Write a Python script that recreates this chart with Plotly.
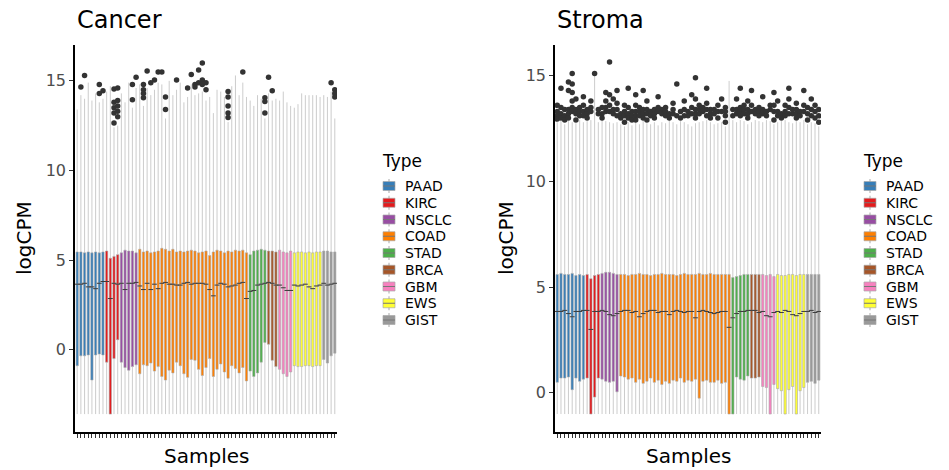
import plotly.graph_objects as go

# ---------------- data ----------------
types = ["PAAD", "KIRC", "NSCLC", "COAD", "STAD", "BRCA", "GBM", "EWS", "GIST"]
type_counts = [8, 4, 5, 30, 5, 3, 4, 8, 4]
type_colors = ["#377EB8", "#E41A1C", "#984EA3", "#FF7F00", "#4DAF4A",
               "#A65628", "#F781BF", "#FFFF33", "#999999"]
y_ticks = [0, 5, 10, 15]

# Cancer panel (per sample, 71 samples)
cancer_q3 = [5.45, 5.45, 5.4, 5.45, 5.4, 5.45, 5.4, 5.45,
             5.5, 5.1, 5.2, 5.3,
             5.4, 5.55, 5.5, 5.5, 5.4,
             5.6, 5.45, 5.5, 5.4, 5.45, 5.5, 5.65, 5.6, 5.5, 5.6, 5.45, 5.5, 5.45, 5.5, 5.55,
             5.5, 5.4, 5.45, 5.5, 5.25, 5.45, 5.55, 5.5, 5.4, 5.5, 5.45, 5.55, 5.5, 5.55, 5.4,
             5.3, 5.5, 5.55, 5.6, 5.55,
             5.5, 5.5, 5.45,
             5.55, 5.45, 5.4, 5.5,
             5.4, 5.45, 5.45, 5.4, 5.45, 5.4, 5.45, 5.45,
             5.5, 5.5, 5.45, 5.45]
cancer_med = [3.65, 3.65, 3.7, 3.5, 3.5, 3.4, 3.7, 3.8,
              3.8, 2.85, 3.7, 3.65,
              3.7, 3.35, 3.7, 3.7, 3.75,
              3.55, 3.35, 3.7, 3.35, 3.65, 3.4, 3.7, 3.75, 3.65, 3.65, 3.6, 3.6, 3.7, 3.75, 3.65,
              3.7, 3.7, 3.7, 3.65, 3.35, 3.0, 3.6, 3.7, 3.65, 3.5, 3.55, 3.6, 3.7, 3.75, 2.85,
              3.25, 3.3, 3.6, 3.65, 3.7,
              3.75, 3.7, 3.6,
              3.6, 3.45, 3.3, 3.3,
              3.6, 3.55, 3.6, 3.65, 3.5, 3.4, 3.55, 3.6,
              3.7, 3.6, 3.65, 3.7]
cancer_q1 = [-0.9, -0.35, -0.35, -0.3, -1.7, -0.3, -0.25, -0.3,
             -0.7, -3.6, -0.5, 0.55,
             -0.7, -1.0, -1.15, -0.95, -0.85,
             -1.35, -0.85, -0.9, -0.75, -1.2, -0.95, -1.5, -1.7, -1.15, -1.3, -0.7, -0.9, -1.35, -1.55, -0.55,
             -0.6, -1.1, -1.45, -1.0, -0.5, -1.5, -1.1, -0.8, -1.25, -1.6, -0.9, -1.05, -1.3, -1.0, -1.75,
             -1.2, -1.5, -1.3, -0.7, 0.4,
             0.3, -0.6, -0.95,
             -1.1, -1.35, -1.5, -1.25,
             -0.9, -0.95, -0.95, -0.9, -0.9, -0.95, -0.9, -0.9,
             -0.55, -0.75, -0.35, -0.2]
cancer_lf = [-3.6] * 71
cancer_uf = [13.4, 14.2, 14.0, 14.9, 13.9, 14.3, 13.8, 14.0,
             14.4, 14.7, 12.4, 12.5,
             14.3, 13.8, 14.9, 13.5, 14.6,
             14.8, 13.6, 14.6, 14.2, 14.5, 14.9, 14.8, 12.9, 15.0, 14.2, 14.5, 14.9, 13.8, 14.1,
             14.8, 14.2, 14.3, 14.4, 13.9, 14.1, 13.2, 14.5, 14.4, 14.1, 12.7, 14.7, 15.3, 14.2, 14.9, 14.1,
             13.9, 13.6, 14.2, 14.0, 12.9,
             14.3, 13.9, 14.0,
             13.9, 14.4, 13.8, 13.6,
             13.5, 13.7, 14.3, 14.2, 14.2, 14.2, 14.2, 14.1,
             14.2, 14.1, 14.4, 12.9]
cancer_out_idx = [1, 2, 6, 6, 7,
                  10, 10, 10, 10, 10, 11, 11, 11, 11, 11,
                  15, 15, 16, 18, 18, 18, 18, 19, 20, 21, 22, 23, 24, 24, 27,
                  30, 31, 32, 32, 33, 33, 34, 34, 34, 35, 35,
                  41, 41, 41, 41, 41, 45, 51, 51, 51, 52, 53, 69, 70, 70, 70]
cancer_out_val = [14.65, 15.3, 14.8, 14.3, 14.45,
                  14.55, 13.8, 13.5, 13.2, 12.65, 14.6, 13.9, 13.6, 13.3, 13.0,
                  14.8, 13.95, 15.2, 14.8, 14.5, 14.3, 14.05, 15.55, 14.9, 15.05, 15.5, 15.5, 14.1, 13.4, 15.05,
                  14.6, 15.35, 14.8, 14.65, 15.6, 14.9, 16.0, 15.05, 14.8, 14.5, 14.9,
                  14.4, 14.1, 13.6, 13.2, 12.95, 15.5, 14.05, 13.85, 13.2, 15.2, 14.45, 14.9, 14.5, 14.3, 14.1]

# Stroma panel (per sample, 71 samples)
stroma_q3 = [5.6, 5.65, 5.6, 5.6, 5.65, 5.55, 5.6, 5.55,
             5.6, 5.4, 5.55, 5.6,
             5.65, 5.7, 5.7, 5.65, 5.6,
             5.6, 5.6, 5.55, 5.6, 5.6, 5.65, 5.6, 5.6, 5.55, 5.6, 5.6, 5.65, 5.6, 5.6, 5.6,
             5.55, 5.6, 5.65, 5.6, 5.6, 5.6, 5.65, 5.6, 5.6, 5.65, 5.6, 5.6, 5.6, 5.6, 5.6,
             5.45, 5.5, 5.55, 5.6, 5.6,
             5.6, 5.6, 5.6,
             5.6, 5.55, 5.6, 5.5,
             5.6, 5.55, 5.55, 5.6, 5.6, 5.55, 5.6, 5.6,
             5.6, 5.6, 5.6, 5.6]
stroma_med = [3.85, 3.85, 3.9, 3.75, 3.6, 3.85, 3.85, 3.9,
              3.9, 3.0, 3.85, 3.85,
              3.9, 3.85, 3.7, 3.65, 3.75,
              3.85, 3.9, 3.9, 3.8, 3.85, 3.6, 3.75, 3.85, 3.9, 3.9, 3.8, 3.85, 3.85, 3.7, 3.85,
              3.9, 3.85, 3.8, 3.85, 3.85, 3.55, 3.85, 3.9, 3.85, 3.8, 3.75, 3.8, 3.85, 3.85, 3.1,
              3.55, 3.75, 3.85, 3.85, 3.9,
              3.9, 3.9, 3.8,
              3.85, 3.65, 3.6, 3.8,
              3.85, 3.8, 3.9, 3.85, 3.7, 3.65, 3.75, 3.85,
              3.85, 3.9, 3.8, 3.85]
stroma_q1 = [0.5, 0.7, 0.7, 0.75, 0.15, 0.7, 0.55, 0.65,
             0.7, -1.0, -0.2, 0.7,
             0.65, 0.55, 0.5, 0.55, 0.05,
             0.8, 0.75, 0.65, 0.7, 0.5, 0.65, 0.45, 0.55, 0.7, 0.5, 0.6, 0.4, 0.55, 0.45, 0.6,
             0.55, 0.7, 0.5, 0.6, 0.55, 0.65, -0.25, 0.55, 0.6, 0.5, 0.5, 0.6, 0.45, 0.5, -1.0,
             -1.0, 0.75, 0.65, 0.6, 0.8,
             0.7, 0.7, 0.75,
             0.3, 0.25, -1.0, 0.4,
             0.2, 0.1, -1.0, 0.15, 0.3, -1.0, 0.1, 0.25,
             0.5, 0.55, 0.45, 0.6]
stroma_lf = [-1.0] * 71
stroma_uf = [12.8, 12.9, 12.7, 12.85, 12.8, 12.75, 12.9, 12.8,
             12.85, 12.9, 15.0, 12.8,
             12.9, 12.85, 12.8, 12.75, 12.8,
             12.7, 12.6, 12.8, 12.65, 12.8, 12.7, 12.9, 12.75, 12.7, 12.8, 12.65, 12.8, 12.75, 12.9,
             12.8, 12.7, 12.85, 12.8, 12.7, 12.6, 12.75, 12.8, 12.85, 12.9, 12.8, 12.7, 12.75, 12.8, 12.6, 14.75,
             12.9, 12.8, 12.9, 12.85, 12.7,
             12.8, 12.9, 12.85,
             12.8, 12.9, 12.85, 12.7,
             12.8, 12.85, 12.9, 12.8, 12.75, 12.85, 12.8, 12.9,
             12.7, 12.8, 12.75, 12.6]
stroma_outliers = [
    [13.6, 13.3, 13.1, 12.95], [14.4, 13.5, 13.2, 13.0], [13.4, 13.1, 12.9], [14.7, 14.3, 13.4, 13.2, 13.0],
    [15.1, 14.6, 14.2, 13.8, 13.5, 13.3], [13.9, 13.4, 13.2, 12.9], [13.5, 13.3, 13.1], [14.0, 13.6, 13.3, 13.1],
    [13.4, 13.2, 13.0], [13.8, 13.5, 13.3], [15.1], [13.4, 13.2],
    [13.5, 13.2, 13.0], [14.2, 13.8, 13.5, 13.3], [15.65, 14.1, 13.6, 13.3], [13.9, 13.4, 13.2], [14.3, 13.7, 13.4, 13.1],
    [13.2, 13.0], [13.6, 13.3, 13.1, 12.8], [14.4, 13.5, 13.2, 13.0], [13.3, 13.1, 12.9], [14.1, 13.6, 13.3, 13.1, 12.9],
    [13.5, 13.3, 13.1], [14.3, 13.4, 13.2, 13.0], [13.8, 13.4, 13.2, 12.9], [13.3, 13.1], [13.4, 13.2, 13.0], [14.0, 13.5, 13.3],
    [13.4, 13.2], [13.5, 13.3, 13.1], [13.2, 13.0], [13.7, 13.4, 13.2], [14.6, 13.1], [13.3, 13.0], [13.8, 13.4, 13.1], [13.3, 13.1],
    [14.1, 13.5, 13.2], [14.9, 13.9, 13.4, 13.2, 13.0], [13.6, 13.4, 13.2], [13.5, 13.3], [14.4, 13.7, 13.4, 13.1],
    [13.4, 13.2, 13.0], [13.4, 13.2], [13.6, 13.3, 13.0], [13.9, 13.3], [13.5, 13.3, 13.1, 12.8], [],
    [13.4, 13.1], [13.9, 13.4, 13.2], [14.4, 13.5, 13.3, 13.1], [13.6, 13.4, 13.2], [13.8, 13.4, 13.2, 13.0],
    [14.3, 13.6, 13.3], [13.4, 13.2], [13.5, 13.3, 13.1],
    [14.0, 13.4, 13.2], [13.3, 13.1], [13.6, 13.4], [14.2, 13.6, 13.3, 12.9],
    [13.8, 13.3, 13.1], [13.2, 13.0], [13.6, 13.3, 13.1], [14.4, 13.9, 13.5, 13.2], [13.4, 13.2], [13.7, 13.4, 13.2, 13.0], [13.3, 13.1], [14.3, 13.6, 13.3],
    [13.5, 13.2, 12.9], [13.9, 13.4, 13.1], [13.6, 13.3, 13.0], [13.4, 13.1, 12.8]]

# ---------------- figure ----------------
W, H = 949, 470
FONT = "DejaVu Sans"
BOX_LINE = "#a9a9a9"
fig = go.Figure()


def add_panel(q1, med, q3, lf, uf, out_x, out_y, xa, ya):
    start = 0
    for t, n, c in zip(types, type_counts, type_colors):
        idx = list(range(start, start + n))
        fig.add_trace(go.Box(
            x=idx,
            q1=[q1[i] for i in idx], median=[med[i] for i in idx], q3=[q3[i] for i in idx],
            lowerfence=[lf[i] for i in idx], upperfence=[uf[i] for i in idx],
            name=t, fillcolor=c, line=dict(color=BOX_LINE, width=0.6),
            whiskerwidth=0, boxpoints=False, xaxis=xa, yaxis=ya, showlegend=False,
        ))
        start += n
    fig.add_trace(go.Scatter(
        x=list(range(len(med))), y=med, mode="markers", xaxis=xa, yaxis=ya,
        marker=dict(symbol="line-ew", size=3.5, line=dict(width=1, color="#3c3c3c")),
        showlegend=False, hoverinfo="skip"))
    fig.add_trace(go.Scatter(
        x=out_x, y=out_y, mode="markers", xaxis=xa, yaxis=ya,
        marker=dict(color="#333333", size=5.5), showlegend=False))


add_panel(cancer_q1, cancer_med, cancer_q3, cancer_lf, cancer_uf,
          cancer_out_idx, cancer_out_val, "x", "y")

s_out_x, s_out_y = [], []
for i, vals in enumerate(stroma_outliers):
    for v in vals:
        s_out_x.append(i)
        s_out_y.append(v)
add_panel(stroma_q1, stroma_med, stroma_q3, stroma_lf, stroma_uf,
          s_out_x, s_out_y, "x2", "y2")

n_samples = sum(type_counts)
xcommon = dict(tickvals=list(range(n_samples)), ticktext=[""] * n_samples,
               ticks="outside", ticklen=4, tickwidth=1, tickcolor="#333333",
               showline=True, linecolor="black", linewidth=1.5,
               showgrid=False, zeroline=False, range=[-0.6, n_samples - 0.4])
ycommon = dict(tickvals=y_ticks, ticks="outside", ticklen=4, tickwidth=1,
               tickcolor="#333333", tickfont=dict(size=16, color="#4d4d4d", family=FONT),
               showline=True, linecolor="black", linewidth=1.5,
               showgrid=False, zeroline=False)

ydom = [1 - 432 / H, 1 - 45 / H]
fig.update_layout(
    width=W, height=H, margin=dict(l=0, r=0, t=0, b=0),
    paper_bgcolor="white", plot_bgcolor="white",
    font=dict(family=FONT, color="black"),
    boxmode="overlay", boxgap=0.12, showlegend=False,
    xaxis=dict(domain=[75 / W, 337 / W], anchor="y", **xcommon),
    yaxis=dict(domain=ydom, anchor="x", range=[-4.6, 17.0], **ycommon),
    xaxis2=dict(domain=[555 / W, 821 / W], anchor="y2", **xcommon),
    yaxis2=dict(domain=ydom, anchor="x2", range=[-1.85, 16.45], **ycommon),
)


def px_x(v):
    return v / W


def px_y(v):
    return 1 - v / H


annots = [
    dict(text="Cancer", x=px_x(75), y=px_y(20), xanchor="left", yanchor="middle", font=dict(size=24)),
    dict(text="Stroma", x=px_x(555), y=px_y(20), xanchor="left", yanchor="middle", font=dict(size=24)),
    dict(text="logCPM", x=px_x(24), y=px_y(238), xanchor="center", yanchor="middle",
         textangle=-90, font=dict(size=20)),
    dict(text="logCPM", x=px_x(506), y=px_y(238), xanchor="center", yanchor="middle",
         textangle=-90, font=dict(size=20)),
    dict(text="Samples", x=px_x(206), y=px_y(456), xanchor="center", yanchor="middle", font=dict(size=20)),
    dict(text="Samples", x=px_x(688), y=px_y(456), xanchor="center", yanchor="middle", font=dict(size=20)),
]

# manual legends (ggplot-style keys), one per panel
shapes = []
for lx in (381, 862):
    annots.append(dict(text="Type", x=px_x(lx - 1), y=px_y(161), xanchor="left", yanchor="middle",
                       font=dict(size=17)))
    for k, (t, c) in enumerate(zip(types, type_colors)):
        cy = 186 + k * 16.75
        kx0, kx1 = lx + 2, lx + 14
        kxm = (kx0 + kx1) / 2
        shapes.append(dict(type="line", xref="paper", yref="paper",
                           x0=px_x(kxm), x1=px_x(kxm), y0=px_y(cy - 7), y1=px_y(cy + 7),
                           line=dict(color=BOX_LINE, width=1)))
        shapes.append(dict(type="rect", xref="paper", yref="paper",
                           x0=px_x(kx0), x1=px_x(kx1), y0=px_y(cy - 4.5), y1=px_y(cy + 4.5),
                           fillcolor=c, line=dict(color=BOX_LINE, width=0.7)))
        shapes.append(dict(type="line", xref="paper", yref="paper",
                           x0=px_x(kx0), x1=px_x(kx1), y0=px_y(cy), y1=px_y(cy),
                           line=dict(color="#777777", width=1)))
        annots.append(dict(text=t, x=px_x(lx + 23), y=px_y(cy), xanchor="left", yanchor="middle",
                           borderpad=0, font=dict(size=14)))

for a in annots:
    fig.add_annotation(xref="paper", yref="paper", showarrow=False, **a)
fig.update_layout(shapes=shapes)

fig.write_html("out.html", config={"displayModeBar": False},
               post_script="document.body.style.margin='0px';"
                           "document.documentElement.style.overflow='hidden';")
